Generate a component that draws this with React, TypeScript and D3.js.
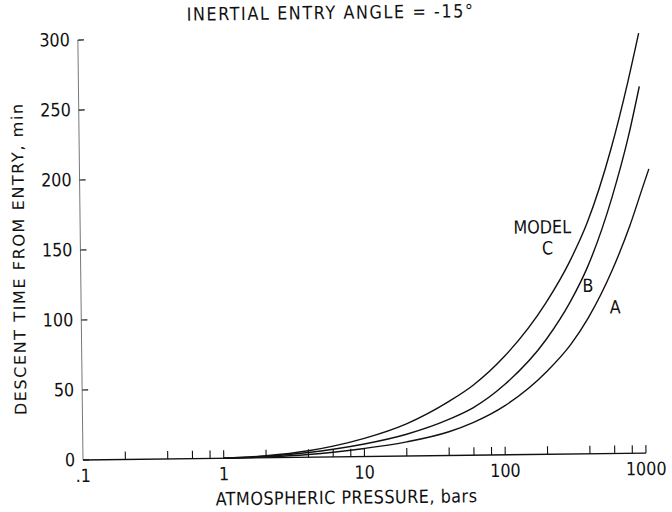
import React from "react";
import * as d3 from "d3";

// ---- data ----
const modelAPressure = [1, 2, 4, 6, 10, 20, 40, 60, 100, 200, 300, 400, 600, 800, 1000, 1110];
const modelATime = [0, 0.6, 2, 3.4, 5.8, 10.1, 17, 23.5, 35, 59, 78.5, 97.1, 131.4, 162, 190, 203];

const modelBPressure = [1, 2, 4, 6, 10, 20, 40, 60, 100, 200, 300, 400, 600, 800, 965];
const modelBTime = [0, 1.1, 3.4, 5.5, 9, 15.6, 25.8, 34, 50, 82, 109, 133.7, 182.1, 226.5, 262];

const modelCPressure = [1, 2, 4, 6, 10, 20, 40, 60, 100, 200, 300, 400, 600, 800, 965];
const modelCTime = [0, 1.4, 4.6, 7.7, 13, 23, 38.5, 50, 70, 108, 138, 165, 217.7, 265.2, 300];

const yTicks = [0, 50, 100, 150, 200, 250, 300];
const xTickValues = [0.1, 1, 10, 100, 1000];
const xTickText = [".1", "1", "10", "100", "1000"];
const xMinorTicks = [0.2, 0.4, 0.6, 0.8, 1, 2, 4, 6, 8, 10, 20, 40, 60, 80, 100, 200, 400, 600, 800, 1000];

const titleText = "INERTIAL ENTRY ANGLE = -15°";
const xLabelText = "ATMOSPHERIC PRESSURE, bars";
const yLabelText = "DESCENT TIME FROM ENTRY, min";

const font = "'DejaVu Sans', sans-serif";
const ink = "#111";

function Txt(props: {
  x: number;
  y: number;
  size?: number;
  anchor?: string;
  ls?: number;
  children: React.ReactNode;
}) {
  const { x, y, size = 16, anchor = "middle", ls = 0, children } = props;
  return (
    <text
      transform={`translate(${x},${y}) scale(1,1.14)`}
      fontSize={size}
      textAnchor={anchor}
      letterSpacing={ls}
      fontFamily={font}
      fill={ink}
    >
      {children}
    </text>
  );
}

export default function App() {
  const W = 672;
  const H = 512;
  const x0 = 83;
  const x1 = 646;
  const yBase = 460;
  const yTop = 40;

  const x = d3.scaleLog().domain([0.1, 1000]).range([x0, x1]);
  const y = d3.scaleLinear().domain([0, 300]).range([yBase, yTop]);

  const line = d3
    .line<[number, number]>()
    .x((d) => x(d[0]))
    .y((d) => y(d[1]))
    .curve(d3.curveMonotoneX);

  const series = [
    modelAPressure.map((p, i) => [p, modelATime[i]] as [number, number]),
    modelBPressure.map((p, i) => [p, modelBTime[i]] as [number, number]),
    modelCPressure.map((p, i) => [p, modelCTime[i]] as [number, number]),
  ];

  return (
    <svg width={W} height={H} style={{ position: "absolute", left: 0, top: 0, background: "#fff" }}>
      <rect width={W} height={H} fill="#fff" />
      <g transform={`rotate(-0.7, ${x0}, ${yBase})`}>
        {/* title */}
        <Txt x={336} y={22} ls={1.6}>{titleText}</Txt>

        {/* y axis */}
        <line x1={x0} x2={x0} y1={y(0)} y2={y(300)} stroke="#777" strokeWidth={1} />
        {yTicks.map((t) => (
          <g key={t}>
            <line x1={x0} x2={x0 + 6} y1={y(t)} y2={y(t)} stroke={ink} strokeWidth={1.2} />
            <Txt x={x0 - 8} y={y(t) + 6} anchor="end">{String(t)}</Txt>
          </g>
        ))}
        <text
          transform={`translate(27, 258) rotate(-90)`}
          fontSize={16}
          textAnchor="middle"
          letterSpacing={1.6}
          fontFamily={font}
          fill={ink}
        >
          {yLabelText}
        </text>

        {/* x axis */}
        <line x1={x0} x2={x1} y1={yBase} y2={yBase} stroke={ink} strokeWidth={1.4} />
        {xMinorTicks.map((t) => (
          <line key={t} x1={x(t)} x2={x(t)} y1={yBase} y2={yBase - 8} stroke={ink} strokeWidth={1.1} />
        ))}
        {xTickValues.map((v, i) => (
          <Txt key={v} x={x(v)} y={482}>{xTickText[i]}</Txt>
        ))}
        <Txt x={346} y={507} ls={0.5}>{xLabelText}</Txt>

        {/* curves */}
        {series.map((s, i) => (
          <path key={i} d={line(s) || ""} fill="none" stroke={ink} strokeWidth={1.4} />
        ))}

        {/* curve labels */}
        <Txt x={545} y={239}>MODEL</Txt>
        <Txt x={550} y={260}>C</Txt>
        <Txt x={590} y={298}>B</Txt>
        <Txt x={617} y={320}>A</Txt>
      </g>
    </svg>
  );
}
